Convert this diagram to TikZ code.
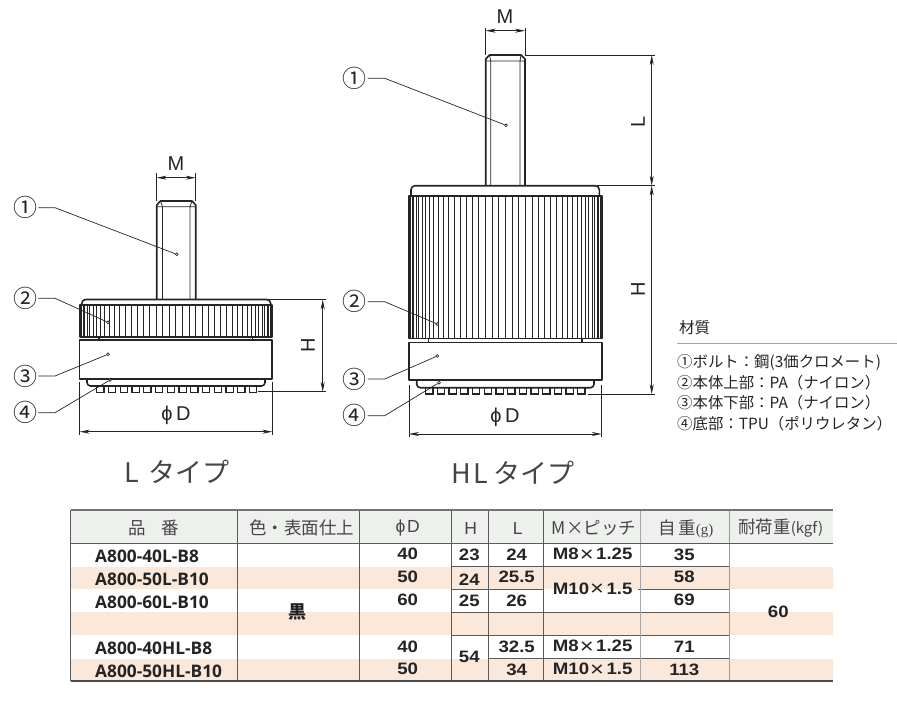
\documentclass[tikz,border=0pt]{standalone}
\usepackage{fontspec}
\usetikzlibrary{arrows.meta}
\setmainfont{Liberation Sans}
\newfontfamily\cjk{Noto Sans CJK JP}
\newfontfamily\numf[FakeStretch=1.13]{Liberation Sans}
\newfontfamily\partf{Open Sans}
\newfontfamily\serf{Liberation Serif}
\definecolor{ink}{HTML}{242424}
\definecolor{band}{HTML}{FAE8DA}
\definecolor{headbg}{HTML}{EEF0EE}
\definecolor{rulec}{HTML}{5A5A5A}
\newcommand{\bigx}{\hspace{1pt}\raisebox{-1.6pt}{\fontsize{21}{21}\mdseries ×}\hspace{2.5pt}}
\tikzset{
  outline/.style={draw=ink,line width=1.6pt,line join=round},
  thinl/.style={draw=ink,line width=0.75pt},
  dimline/.style={draw=ink,line width=0.7pt,{Stealth[length=10pt,width=4pt]}-{Stealth[length=10pt,width=4pt]}},
  extline/.style={draw=ink,line width=0.7pt},
  leader/.style={draw=ink,line width=0.7pt},
  tipdot/.style={circle,draw=ink,fill=white,line width=0.6pt,inner sep=0pt,minimum size=2.8pt},
  callout/.style={inner sep=1.2pt,text=ink,font=\cjk\fontsize{24}{24}\selectfont},
  dimtext/.style={inner sep=0pt,text=ink,font=\fontsize{20}{20}\selectfont},
  titletext/.style={inner sep=0pt,text=ink!85,font=\cjk\fontsize{27}{27}\selectfont},
  head/.style={inner sep=0pt,text=ink!85,font=\cjk\fontsize{17.5}{17.5}\selectfont},
  num/.style={inner sep=0pt,text=ink,font=\numf\bfseries\fontsize{16.5}{16.5}\selectfont},
  part/.style={inner sep=0pt,anchor=west,text=ink,font=\partf\bfseries\fontsize{17.3}{17.3}\selectfont},
  mat/.style={inner sep=0pt,anchor=west,text=ink,font=\cjk\fontsize{15.4}{16}\selectfont},
  vrule/.style={draw=rulec,line width=0.8pt},
  hrule/.style={draw=rulec,line width=0.7pt},
}
\newcommand{\knurl}[4]{% cx, R, top, bottom
  \foreach \a in {-88,-84,...,88}{\draw[thinl] ({#1+#2*sin(\a)},#3) -- ({#1+#2*sin(\a)},#4);}}
\newcommand{\feet}[3]{% xleft, xright, ytop
  \foreach \i in {0,...,13}{\draw[draw=ink,line width=1.3pt] ({#1+\i*(#2-#1-7.3)/13},#3) rectangle ++(7.3,6.2);}}
\begin{document}
\begin{tikzpicture}[x=1pt,y=-1pt]
\useasboundingbox (0,0) rectangle (897,704);
% ---- L type
\draw[outline] (156.7,299) -- (156.7,205) -- (160.5,201) -- (192,201) -- (195.7,205) -- (195.7,299);
\draw[thinl] (156.7,206.7) -- (195.7,206.7) (162.5,206.7) -- (162.5,299) (190,206.7) -- (190,299) (160.5,201) -- (162.5,206.7) (192,201) -- (190,206.7);
\draw[outline,rounded corners=4pt] (81.7,305) -- (81.7,299.5) -- (270.7,299.5) -- (270.7,305);
\knurl{175.85}{95.8}{305}{336.7}
\draw[outline] (80,305) rectangle (271.7,336.7);
\draw[outline] (99,336.7) -- (99,340) (252.3,336.7) -- (252.3,340);
\draw[outline] (79.3,340) rectangle (272,378.7);
\draw[outline,rounded corners=3.5pt] (87,378.7) -- (87,386) -- (265,386) -- (265,378.7);
\feet{96.7}{256.7}{386}
% ---- HL type
\draw[outline] (485.7,185.7) -- (485.7,59) -- (489.5,55) -- (521,55) -- (525,59) -- (525,185.7);
\draw[thinl] (485.7,61) -- (525,61) (490.7,61) -- (490.7,185.7) (520,61) -- (520,185.7) (489.5,55) -- (490.7,61) (521,55) -- (520,61);
\draw[outline,rounded corners=4pt] (411,196) -- (411,185.7) -- (599.3,185.7) -- (599.3,196);
\knurl{505.35}{96.3}{196}{338.3}
\draw[outline] (409,196) rectangle (601.7,338.3);
\draw[outline] (428.3,338.3) -- (428.3,342.3) (581.7,338.3) -- (581.7,342.3);
\draw[outline] (409,342.3) rectangle (601.7,380);
\draw[outline,rounded corners=3.5pt] (416.7,380) -- (416.7,387.7) -- (594,387.7) -- (594,380);
\feet{425.7}{585}{387.7}
% ---- dimensions, L type
\coordinate (lm1) at (156.7,177.7); \coordinate (lm2) at (195.7,177.7);
\draw[extline] (156.7,172.5) -- (156.7,201) (195.7,172.5) -- (195.7,201);
\draw[dimline] (lm1) -- (lm2);
\node[dimtext] (lmt) at (176,163.5) {M};
\coordinate (lh1) at (322.7,299.5); \coordinate (lh2) at (322.7,391.8);
\draw[extline] (268,299.5) -- (326,299.5) (258,391.8) -- (326,391.8);
\draw[dimline] (lh1) -- (lh2);
\node[dimtext,rotate=90] (lht) at (308,345) {H};
\coordinate (ld1) at (79.7,431.7); \coordinate (ld2) at (272.3,431.7);
\draw[extline] (79.7,381.7) -- (79.7,435) (272.3,381.7) -- (272.3,435);
\draw[dimline] (ld1) -- (ld2);
\node[dimtext] (ldt) at (176,415) {ϕ\hspace{.18em}D};
% ---- dimensions, HL type
\coordinate (hm1) at (485.7,30.7); \coordinate (hm2) at (525,30.7);
\draw[extline] (485.7,27.5) -- (485.7,55) (525,27.5) -- (525,55);
\draw[dimline] (hm1) -- (hm2);
\node[dimtext] (hmt) at (505,16.7) {M};
\coordinate (hl1) at (651.7,55); \coordinate (hl2) at (651.7,185.7); \coordinate (hh2) at (651.7,394.2);
\draw[extline] (525,55) -- (655,55) (597,185.7) -- (655,185.7) (588,394.2) -- (655,394.2);
\draw[dimline] (hl1) -- (hl2);
\draw[dimline] (hl2) -- (hh2);
\node[dimtext,rotate=90] (hlt) at (638,121.7) {L};
\node[dimtext,rotate=90] (hht) at (638,289) {H};
\coordinate (hd1) at (409,434); \coordinate (hd2) at (601.7,434);
\draw[extline] (409,385) -- (409,437) (601.7,385) -- (601.7,437);
\draw[dimline] (hd1) -- (hd2);
\node[dimtext] (hdt) at (505,417.7) {ϕ\hspace{.18em}D};
% ---- callouts, L type
\node[callout] (a1) at (25,207.7) {①}; \coordinate (ak1) at (55,207.7); \node[tipdot] (ae1) at (176.7,254.3) {};
\node[callout] (a2) at (25,298.3) {②}; \coordinate (ak2) at (55,298.3); \node[tipdot] (ae2) at (108,322.3) {};
\node[callout] (a3) at (25,376) {③}; \coordinate (ak3) at (55,376); \node[tipdot] (ae3) at (108,354.3) {};
\node[callout] (a4) at (25,412.7) {④}; \coordinate (ak4) at (55,412.7); \node[tipdot] (ae4) at (110,380) {};
\foreach \n in {1,2,3,4}{\draw[leader] (a\n.east) -- (ak\n) -- (ae\n);}
% ---- callouts, HL type
\node[callout] (b1) at (354.3,78.3) {①}; \coordinate (bk1) at (384.7,78.3); \node[tipdot] (be1) at (506,125.3) {};
\node[callout] (b2) at (354.3,301.7) {②}; \coordinate (bk2) at (384.7,301.7); \node[tipdot] (be2) at (437.3,324) {};
\node[callout] (b3) at (354.3,379) {③}; \coordinate (bk3) at (384.7,379); \node[tipdot] (be3) at (437.3,356) {};
\node[callout] (b4) at (354.3,415.7) {④}; \coordinate (bk4) at (384.7,415.7); \node[tipdot] (be4) at (439,382.7) {};
\foreach \n in {1,2,3,4}{\draw[leader] (b\n.east) -- (bk\n) -- (be\n);}
% ---- titles
\node[titletext] (t1) at (177,472) {L\hspace{.35em}タイプ};
\node[titletext] (t2) at (513,473) {H\hspace{.12em}L\hspace{.2em}タイプ};
% ---- materials
\node[mat,font=\cjk\fontsize{15.5}{16}\selectfont] (m0) at (679,328) {材質};
\draw[draw=black!35,line width=0.9pt] (677,343.5) -- (897,343.5);
\node[mat] (m1) at (677,362.3) {①ボルト：鋼(3価クロメート)};
\node[mat] (m2) at (677,382.5) {②本体上部：PA（ナイロン）};
\node[mat] (m3) at (677,402.5) {③本体下部：PA（ナイロン）};
\node[mat] (m4) at (677,424) {④底部：TPU（ポリウレタン）};
% ---- table
\fill[headbg] (70.7,510) rectangle (832.7,543.3);
\foreach \y/\z in {566.7/589.3,612.3/635,658.7/681}{\fill[band] (70.7,\y) rectangle (832.7,\z);}
\draw[hrule] (451.7,566.7) -- (729.3,566.7);
\draw[hrule] (451.7,589.3) -- (543.3,589.3) (638,589.3) -- (729.3,589.3);
\draw[hrule] (451.7,612.3) -- (729.3,612.3);
\draw[hrule] (451.7,635) -- (729.3,635);
\draw[hrule] (488.3,658.7) -- (729.3,658.7);
\foreach \x in {237.7,359.3,451.7,488.3,543.3}{\draw[vrule] (\x,510) -- (\x,681);}
\draw[vrule,draw=black!35] (640,510) -- (640,681);
\draw[vrule,draw=black!40] (729.3,510) -- (729.3,681);
\draw[draw=black!55,line width=1.2pt] (70.7,510) -- (832.7,510);
\draw[hrule] (70.7,543.3) -- (832.7,543.3);
\draw[draw=black!70,line width=1.2pt] (70.7,681) -- (832.7,681);
\draw[vrule] (70.7,510) -- (70.7,681);
\node[head] (h1) at (154,528.3) {品\hspace{.9em}番};
\node[head] (h2) at (301.7,528.3) {色・表面仕上};
\node[head] (h3) at (407.7,528.3) {\fontspec{Liberation Sans}ϕ\hspace{.1em}D};
\node[head] (h4) at (470.7,528.3) {\fontspec{Liberation Sans}H};
\node[head] (h5) at (517.7,528.3) {\fontspec{Liberation Sans}L};
\node[head] (h6) at (594,528.3) {M×ピッチ};
\node[head] (h7) at (686,528.3) {自\hspace{.12em}重{\serf\fontsize{15}{15}\selectfont (g)}};
\node[head] (h8) at (780.7,528.3) {耐荷重{\fontsize{15}{15}\selectfont (kgf)}};
\node[part] (p1) at (95,556) {A800-40L-B8};
\node[part] (p2) at (95,579) {A800-50L-B10};
\node[part] (p3) at (95,602.3) {A800-60L-B10};
\node[part] (p4) at (95,648.3) {A800-40HL-B8};
\node[part] (p5) at (95,671.7) {A800-50HL-B10};
\node[num,font=\cjk\bfseries\fontsize{18}{18}\selectfont] (col) at (297.3,612.3) {黒};
\node[num] (d1) at (407.7,554.3) {40};
\node[num] (d2) at (407.7,577.3) {50};
\node[num] (d3) at (407.7,600) {60};
\node[num] (d4) at (407.7,646.7) {40};
\node[num] (d5) at (407.7,669.3) {50};
\node[num] (e1) at (469.3,555) {23};
\node[num] (e2) at (469.3,580) {24};
\node[num] (e3) at (469.3,600.7) {25};
\node[num] (e4) at (469.3,657) {54};
\node[num] (l1) at (516.7,555) {24};
\node[num] (l2) at (516.7,577.3) {25.5};
\node[num] (l3) at (516.7,600.7) {26};
\node[num] (l4) at (516.7,646.7) {32.5};
\node[num] (l5) at (516.7,669.7) {34};
\node[num] (s1) at (592.7,554.7) {M8\bigx 1.25};
\node[num] (s2) at (592.7,589.3) {M10\bigx 1.5};
\node[num] (s3) at (592.7,646.7) {M8\bigx 1.25};
\node[num] (s4) at (592.7,669.7) {M10\bigx 1.5};
\node[num] (w1) at (684.3,555) {35};
\node[num] (w2) at (684.3,577.3) {58};
\node[num] (w3) at (684.3,600) {69};
\node[num] (w4) at (684.3,646.7) {71};
\node[num] (w5) at (684.3,669.7) {113};
\node[num] (load) at (778.3,612.3) {60};
\end{tikzpicture}
\end{document}
